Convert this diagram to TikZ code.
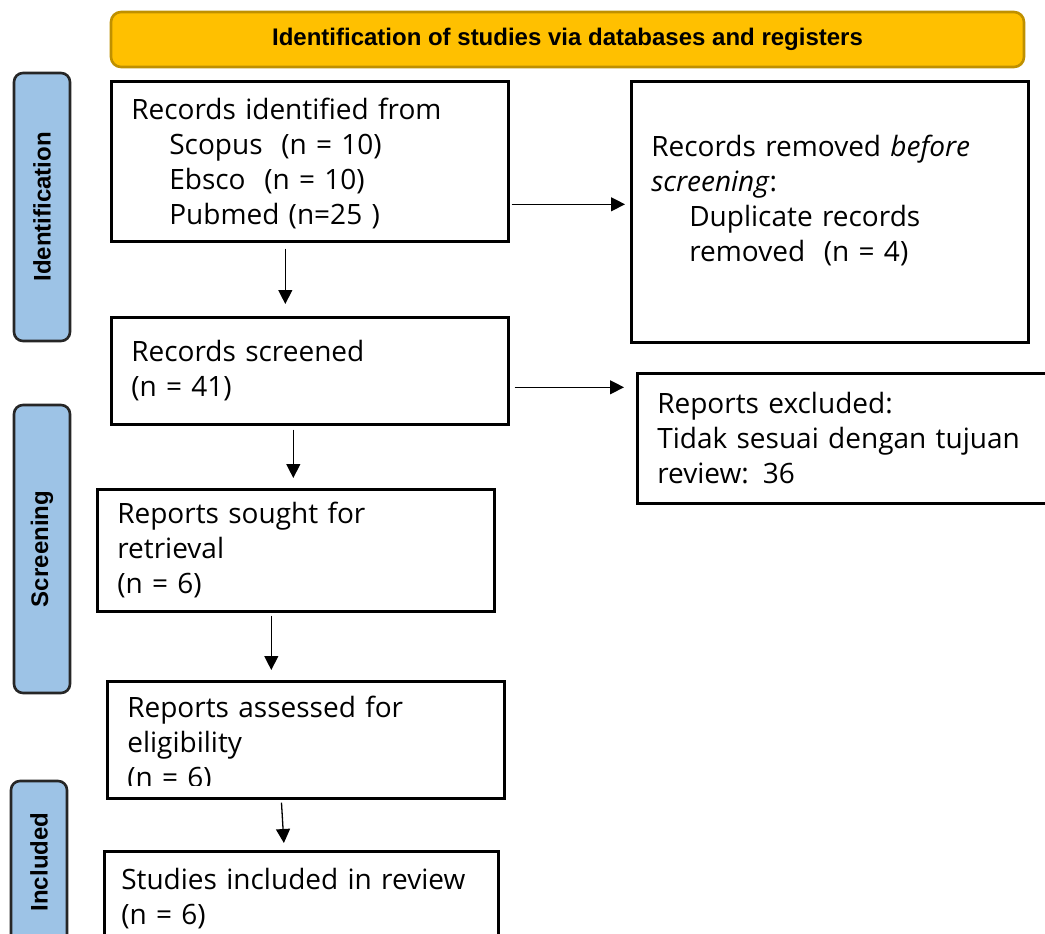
\documentclass[tikz,border=0pt]{standalone}
\usepackage{fontspec}
\setmainfont{Open Sans}
\newfontfamily\arialfont{Liberation Sans}
\usetikzlibrary{arrows.meta,positioning}
\definecolor{hdrfill}{HTML}{FFC000}
\definecolor{hdrline}{HTML}{BF9000}
\definecolor{phasefill}{HTML}{9DC3E6}
\begin{document}
\begin{tikzpicture}[x=1pt,y=-1pt,>={Triangle[length=14pt,width=14pt]},
box/.style={draw,line width=2.6pt,anchor=north west,align=left,inner xsep=20pt,text width=357pt,font=\fontsize{28}{35}\selectfont},
phase/.style={draw=black!85,line width=2.6pt,rounded corners=9pt,fill=phasefill,rotate=90,minimum height=56pt,font=\arialfont\bfseries\fontsize{24}{28}\selectfont},
link/.style={->,line width=1.3pt}]
\useasboundingbox (0,0) rectangle (1045,934);
\clip (0,0) rectangle (1045,934);
% header and phases
\node[draw=hdrline,fill=hdrfill,line width=2.6pt,rounded corners=10pt,minimum width=913pt,minimum height=55pt,font=\arialfont\bfseries\fontsize{24}{28}\selectfont](hdr) at (567.5,39.5){Identification of studies via databases and registers};
\node[phase,minimum width=268pt](idp) at (42,207){Identification};
\node[phase,minimum width=288pt](scp) at (42,549){Screening};
\node[phase,minimum width=162pt](inp) at (39,862){Included};
% boxes
\node[box,minimum height=160pt,text depth=106pt](rec) at (110,80){Records identified from\\\hspace*{38pt}Scopus\ \ (n = 10)\\\hspace*{38pt}Ebsco\ \ (n = 10)\\\hspace*{38pt}Pubmed (n=25 )};
\node[box,minimum height=261pt,text depth=132pt](rem) at (630,80){Records removed \textit{before screening}:\\\hspace*{38pt}Duplicate records\\\hspace*{38pt}removed\ \ (n = 4)};
\node[box,minimum height=107pt](scr) at (110,316){Records screened\\(n = 41)};
\node[box,minimum height=130pt,text width=380pt](exc) at (636,372){Reports excluded:\\Tidak sesuai dengan tujuan review: 36};
\node[box,minimum height=122pt](sgt) at (96,488){Reports sought for\\retrieval\\(n = 6)};
\node[box,minimum height=117pt](asd) at (106,680){};
\begin{scope}
\clip (asd.north west) rectangle ([yshift=14pt]asd.south east);
\node[box,draw=none,minimum height=117pt,yshift=-4pt](asdtxt) at (106,680){Reports assessed for\\eligibility\\(n = 6)};
\end{scope}
\node[box,minimum height=95pt,inner xsep=17pt,text width=360pt](inc) at (103,850){Studies included in review\\(n = 6)};
% arrows
\draw[link,shorten <=6pt,shorten >=12pt]([xshift=-24.5pt]rec.south)--([xshift=-24.5pt]rec.south|-scr.north);
\draw[link,shorten <=4pt,shorten >=10pt]([xshift=-16.5pt]scr.south)--([xshift=-16.5pt]scr.south|-sgt.north);
\draw[link,shorten <=3pt,shorten >=10pt]([xshift=-24.5pt]sgt.south)--([xshift=-24.5pt]sgt.south|-asd.north);
\draw[link,shorten <=3pt,shorten >=7pt]([xshift=-24.5pt]asd.south)--([xshift=-17pt]inc.north);
\draw[link,shorten <=2pt,shorten >=5pt]([yshift=-43pt]rec.east)--([yshift=-43pt]rec.east-|rem.west);
\draw[link,shorten <=5pt,shorten >=12pt]([yshift=-16.5pt]scr.east)--([yshift=-16.5pt]scr.east-|exc.west);
\end{tikzpicture}
\end{document}
